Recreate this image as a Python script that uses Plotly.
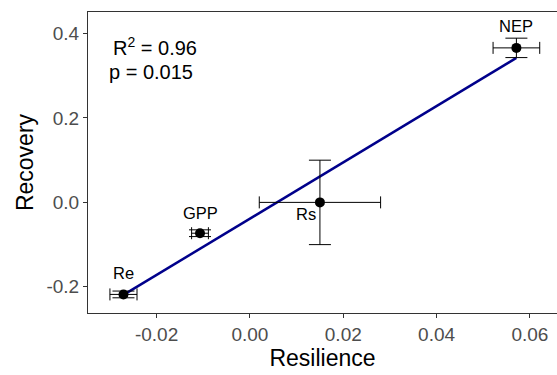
import numpy as np
import plotly.graph_objects as go

names = ["Re", "GPP", "Rs", "NEP"]
resilience = [-0.0271, -0.0107, 0.015, 0.0571]
recovery = [-0.218, -0.073, 0.0, 0.366]
res_err = [0.0029, 0.0018, 0.013, 0.005]
rec_err = [0.008, 0.008, 0.1, 0.023]
x_ticks = [-0.02, 0.0, 0.02, 0.04, 0.06]
x_tick_labels = ["-0.02", "0.00", "0.02", "0.04", "0.06"]
y_ticks = [-0.2, 0.0, 0.2, 0.4]
y_tick_labels = ["-0.2", "0.0", "0.2", "0.4"]

slope, intercept = np.polyfit(resilience, recovery, 1)
xl = np.array([min(resilience), max(resilience)])
yl = slope * xl + intercept

FONT = "Arial, Liberation Sans, sans-serif"

fig = go.Figure()
fig.add_trace(go.Scatter(
    x=xl, y=yl, mode="lines", line=dict(color="#00008B", width=2.5),
    showlegend=False, hoverinfo="skip"))
fig.add_trace(go.Scatter(
    x=resilience, y=recovery, mode="markers",
    marker=dict(color="black", size=10),
    error_x=dict(type="data", array=res_err, color="black", thickness=1, width=6),
    error_y=dict(type="data", array=rec_err, color="black", thickness=1, width=11),
    showlegend=False, hoverinfo="skip"))

label_pos = {"Re": (0, 21), "GPP": (0, 20), "Rs": (-14, -12), "NEP": (0, 22)}
for n, x, y in zip(names, resilience, recovery):
    dx, dy = label_pos[n]
    fig.add_annotation(x=x, y=y, text=n, showarrow=False, xshift=dx, yshift=dy,
                       font=dict(size=16.5, color="black", family=FONT))

fig.add_annotation(xref="paper", yref="paper", x=0.048, y=0.885, xanchor="left", yanchor="middle",
                   text="R<sup>2</sup> = 0.96", showarrow=False,
                   font=dict(size=20, color="black", family=FONT))
fig.add_annotation(xref="paper", yref="paper", x=0.041, y=0.80, xanchor="left", yanchor="middle",
                   text="p = 0.015", showarrow=False,
                   font=dict(size=20, color="black", family=FONT))

axis_common = dict(showgrid=False, zeroline=False, showline=True, linecolor="#333333", linewidth=1,
                   mirror=True, ticks="outside", ticklen=4, tickcolor="#333333", automargin=False,
                   tickfont=dict(size=19, color="#4d4d4d", family=FONT))
fig.update_xaxes(range=[-0.0347, 0.0658], tickvals=x_ticks, ticktext=x_tick_labels,
                 title=dict(text="Resilience", font=dict(size=23, color="black", family=FONT), standoff=4),
                 **axis_common)
fig.update_yaxes(range=[-0.262, 0.451], tickvals=y_ticks, ticktext=y_tick_labels,
                 title=dict(text="Recovery", font=dict(size=23, color="black", family=FONT), standoff=6),
                 **axis_common)
fig.update_layout(width=557, height=375, autosize=False, margin=dict(l=88, r=0, t=12, b=62),
                  plot_bgcolor="white", paper_bgcolor="white",
                  font=dict(family=FONT))

post = ("document.body.style.margin='0';document.body.style.padding='0';"
        "var gd=document.getElementById('{plot_id}');"
        "Plotly.relayout(gd,{width:557,height:375});")
fig.write_html("out.html", post_script=post,
               config={"responsive": False, "displayModeBar": False})
